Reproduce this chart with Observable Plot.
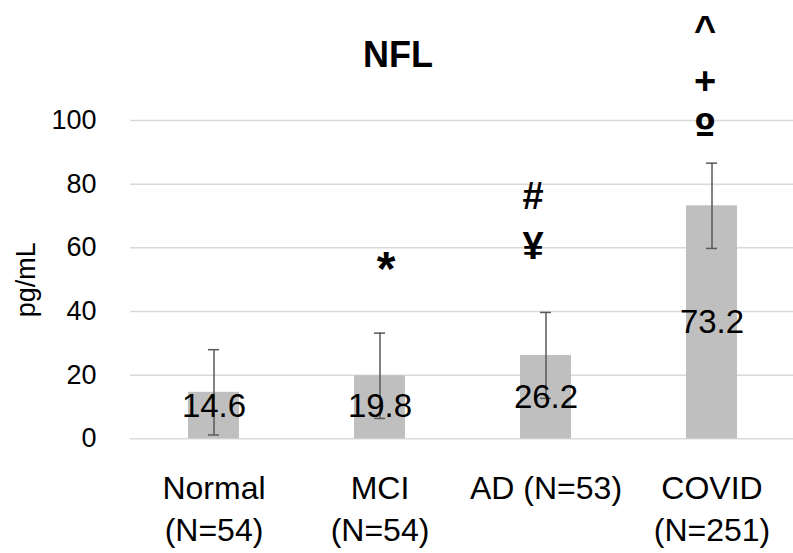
<!DOCTYPE html>
<html>
<head>
<meta charset="utf-8">
<script src="https://cdn.jsdelivr.net/npm/d3@7"></script>
<script src="https://cdn.jsdelivr.net/npm/@observablehq/plot@0.6"></script>
<style>
  html, body { margin: 0; padding: 0; background: #fff; }
  #wrap { position: relative; width: 793px; height: 553px; font-family: "Liberation Sans", Arial, sans-serif; }
  #title { position: absolute; left: 0; top: 37px; width: 796px; text-align: center; font-size: 36px; line-height: 36px; font-weight: bold; color: #000; }
</style>
</head>
<body>
<div id="wrap"><div id="title">NFL</div></div>
<script>
// ---- data ----
const categories = ["Normal", "MCI", "AD", "COVID"];
const xTickLabels = ["Normal\n(N=54)", "MCI\n(N=54)", "AD (N=53)", "COVID\n(N=251)"];
const means = [14.6, 19.8, 26.2, 73.2];
const errors = [13.4, 13.4, 13.5, 13.4];
const yTicks = [0, 20, 40, 60, 80, 100];
const annoCats = ["MCI", "AD", "AD", "COVID", "COVID", "COVID"];
const annoSymbols = ["*", "¥", "#", "º", "+", "^"];
const annoY = [53.2, 60.4, 75.9, 96.9, 112, 128.3];

const data = categories.map((c, i) => ({cat: c, value: means[i], err: errors[i]}));
const annos = annoSymbols.map((s, i) => ({cat: annoCats[i], sym: s, y: annoY[i]}));
const tickLabel = new Map(categories.map((c, i) => [c, xTickLabels[i]]));
const annoDx = {MCI: 6, AD: -13, COVID: -7};
const symSize = {"*": 48, "º": 40};
const symFont = {"º": "'DejaVu Sans', sans-serif"};

const chart = Plot.plot({
  width: 793,
  height: 553,
  marginLeft: 130,
  marginRight: 0,
  marginTop: 120,
  marginBottom: 114.7,
  style: {fontFamily: "'Liberation Sans', Arial, sans-serif", color: "#000", background: "transparent", overflow: "visible"},
  x: {type: "band", domain: categories, range: [130, 796], paddingInner: 0.69, paddingOuter: 0.345},
  y: {domain: [0, 100]},
  marks: [
    Plot.gridY(yTicks, {stroke: "#d9d9d9", strokeOpacity: 1, strokeWidth: 1.5}),
    Plot.axisY(yTicks, {tickSize: 0, tickPadding: 34, fontSize: 27, label: "pg/mL", labelAnchor: "center", labelOffset: 115, labelArrow: false}),
    Plot.axisX({tickSize: 0, tickPadding: 31, fontSize: 32, lineHeight: 1.3, tickFormat: d => tickLabel.get(d), label: null}),
    Plot.barY(data, {x: "cat", y: "value", fill: "#bfbfbf"}),
    Plot.ruleX(data, {x: "cat", y1: d => d.value - d.err, y2: d => d.value + d.err, stroke: "#595959", strokeWidth: 1.5}),
    Plot.tickY(data, {x: "cat", y: d => d.value - d.err, stroke: "#595959", strokeWidth: 1.5, insetLeft: 20, insetRight: 20}),
    Plot.tickY(data, {x: "cat", y: d => d.value + d.err, stroke: "#595959", strokeWidth: 1.5, insetLeft: 20, insetRight: 20}),
    Plot.text(data, {x: "cat", y: d => Math.max(d.value / 2, 10.3), text: d => d.value.toFixed(1), fontSize: 33, fill: "#000"}),
    ...annos.map(a => Plot.text([a], {x: "cat", y: "y", text: "sym", fontSize: symSize[a.sym] || 38, fontWeight: "bold", fontFamily: symFont[a.sym], fill: "#000", dx: annoDx[a.cat] || 0}))
  ]
});
document.getElementById("wrap").prepend(chart);
</script>
</body>
</html>
